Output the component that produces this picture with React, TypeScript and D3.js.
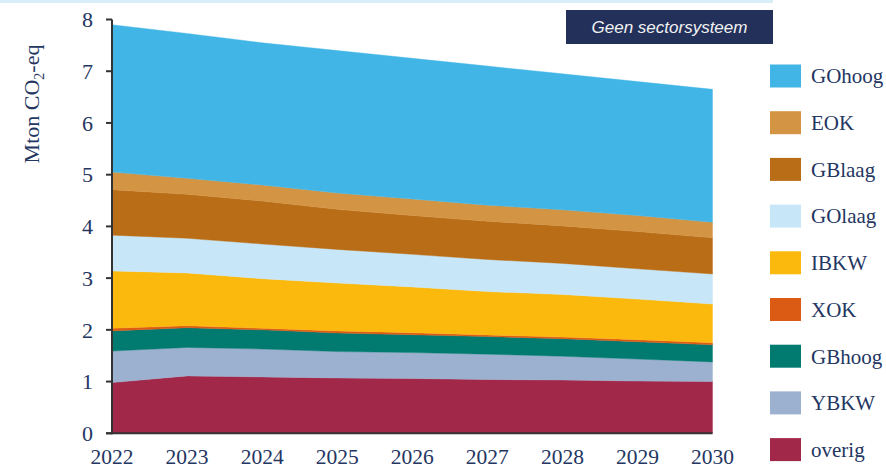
import React from "react";
import * as d3 from "d3";

// Emissions per sector, Mton CO2-eq, stacked bottom to top
const years = [2022, 2023, 2024, 2025, 2026, 2027, 2028, 2029, 2030];
const overig = [0.98, 1.11, 1.09, 1.07, 1.06, 1.04, 1.03, 1.01, 1.0];
const ybkw = [0.61, 0.55, 0.54, 0.51, 0.5, 0.49, 0.46, 0.425, 0.38];
const gbhoog = [0.39, 0.38, 0.37, 0.36, 0.345, 0.34, 0.34, 0.335, 0.33];
const xok = [0.05, 0.04, 0.03, 0.04, 0.04, 0.03, 0.03, 0.04, 0.04];
const ibkw = [1.11, 1.02, 0.96, 0.925, 0.885, 0.84, 0.825, 0.785, 0.75];
const golaag = [0.69, 0.67, 0.67, 0.65, 0.63, 0.62, 0.6, 0.585, 0.58];
const gblaag = [0.88, 0.85, 0.83, 0.775, 0.75, 0.74, 0.725, 0.72, 0.7];
const eok = [0.34, 0.31, 0.31, 0.315, 0.32, 0.31, 0.31, 0.31, 0.3];
const gohoog = [2.85, 2.8, 2.75, 2.755, 2.72, 2.69, 2.63, 2.59, 2.57];

const seriesNames = ["overig", "YBKW", "GBhoog", "XOK", "IBKW", "GOlaag", "GBlaag", "EOK", "GOhoog"];
const seriesValues = [overig, ybkw, gbhoog, xok, ibkw, golaag, gblaag, eok, gohoog];
const seriesColors = ["#A2284A", "#9CB0CF", "#017A70", "#DC5B14", "#FBB90E", "#C7E7F8", "#B96D16", "#D39444", "#41B5E6"];
const yTicks = [0, 1, 2, 3, 4, 5, 6, 7, 8];
const titleText = "Geen sectorsysteem";

const W = 886;
const H = 469;
const TEXT = "#243662";
const SERIF = "'Liberation Serif', 'DejaVu Serif', serif";

export default function App() {
  const x = d3.scaleLinear().domain([2022, 2030]).range([112, 712.5]);
  const y = d3.scaleLinear().domain([0, 8]).range([433.3, 19.5]);

  const rows = years.map((yr, i) => {
    const r: Record<string, number> = { year: yr };
    seriesNames.forEach((n, k) => (r[n] = seriesValues[k][i]));
    return r;
  });
  const stacked = d3.stack<Record<string, number>>().keys(seriesNames)(rows);
  const area = d3
    .area<d3.SeriesPoint<Record<string, number>>>()
    .x((d) => x(d.data.year))
    .y0((d) => y(d[0]))
    .y1((d) => y(d[1]))
    .curve(d3.curveLinear);

  // legend lists top series first
  const legendOrder = seriesNames.map((_, i) => i).reverse();

  return (
    <svg
      width={W}
      height={H}
      style={{ position: "absolute", left: 0, top: 0, background: "#fff" }}
      fontFamily={SERIF}
    >
      <rect x={0} y={0} width={773} height={3} fill="#D9EEF8" />

      {stacked.map((s, i) => (
        <path key={seriesNames[i]} d={area(s) || ""} fill={seriesColors[i]} stroke={seriesColors[i]} strokeWidth={0.4} />
      ))}

      {/* axes */}
      <line x1={112} x2={112} y1={y(8)} y2={y(0) + 1} stroke="#333" strokeWidth={2} />
      <line x1={106} x2={712.5} y1={y(0)} y2={y(0)} stroke="#333" strokeWidth={2} />
      {yTicks.map((t) => (
        <g key={t}>
          <line x1={106} x2={112} y1={y(t)} y2={y(t)} stroke="#333" strokeWidth={2} />
          <text x={93} y={y(t)} dy="0.35em" textAnchor="end" fontSize={22} fill={TEXT}>
            {t}
          </text>
        </g>
      ))}
      {years.map((yr) => (
        <text key={yr} x={x(yr)} y={464} textAnchor="middle" fontSize={21.5} fill={TEXT}>
          {yr}
        </text>
      ))}

      <text transform="translate(39,104) rotate(-90)" textAnchor="middle" fontSize={22} fill={TEXT}>
        Mton CO
        <tspan fontSize={14} dy={5}>2</tspan>
        <tspan dy={-5}>-eq</tspan>
      </text>

      {/* title box */}
      <rect x={566} y={10} width={207} height={34} fill="#22305A" />
      <text
        x={669.5}
        y={33}
        textAnchor="middle"
        fontSize={17}
        fontStyle="italic"
        fontFamily="'Liberation Sans', 'Open Sans', sans-serif"
        fill="#F2F2F2"
      >
        {titleText}
      </text>

      {/* legend */}
      {legendOrder.map((k, j) => {
        const cy = 76 + j * 46.7;
        return (
          <g key={seriesNames[k]}>
            <rect x={770} y={cy - 11.5} width={31} height={23} fill={seriesColors[k]} />
            <text x={811} y={cy} dy="0.35em" fontSize={21} fill={TEXT}>
              {seriesNames[k]}
            </text>
          </g>
        );
      })}
    </svg>
  );
}
